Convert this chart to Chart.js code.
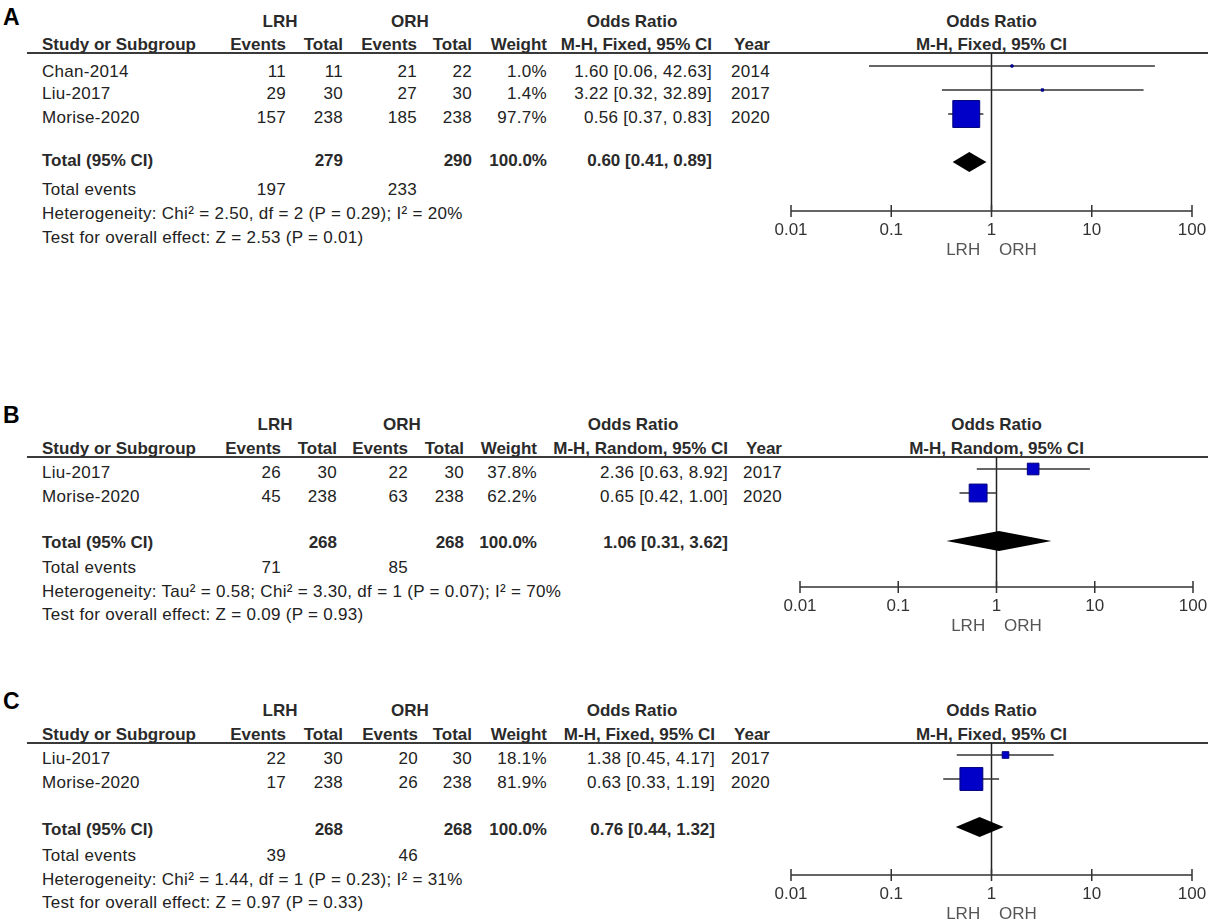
<!DOCTYPE html>
<html><head><meta charset="utf-8">
<script src="https://cdn.jsdelivr.net/npm/chart.js@4.4.1/dist/chart.umd.min.js"></script>
<style>
html,body{margin:0;padding:0;background:#fff;width:1208px;height:923px;overflow:hidden;position:relative;font-family:"Liberation Sans",Arial,sans-serif;color:#222}
.t{position:absolute;white-space:pre;font-size:17px;line-height:20px;height:20px;letter-spacing:0.3px}
.b{font-weight:bold;letter-spacing:0;color:#2a2a2a}
.rule{position:absolute;left:27px;width:1181px;height:2px;background:#3a3a3a}
.letter{position:absolute;font-weight:bold;font-size:23px;line-height:26px;color:#000}
canvas{position:absolute}
</style></head><body>
<script>
// ---------- shared axis ----------
const tickValues = [0.01, 0.1, 1, 10, 100];
const tickLabels = ['0.01', '0.1', '1', '10', '100'];
const colHeaders = ['Events', 'Total', 'Events', 'Total', 'Weight'];

// ---------- Panel A ----------
const studiesA   = ['Chan-2014', 'Liu-2017', 'Morise-2020'];
const lrhEventsA = [11, 29, 157];
const lrhTotalA  = [11, 30, 238];
const orhEventsA = [21, 27, 185];
const orhTotalA  = [22, 30, 238];
const weightA    = [1.0, 1.4, 97.7];
const orA        = [1.60, 3.22, 0.56];
const ciLowA     = [0.06, 0.32, 0.37];
const ciHighA    = [42.63, 32.89, 0.83];
const yearA      = [2014, 2017, 2020];
const totalNA    = [279, 290];
const totalEvA   = [197, 233];
const pooledA    = [0.60, 0.41, 0.89];
const methodA    = 'M-H, Fixed, 95% CI';
const hetA       = 'Heterogeneity: Chi\u00B2 = 2.50, df = 2 (P = 0.29); I\u00B2 = 20%';
const testA      = 'Test for overall effect: Z = 2.53 (P = 0.01)';

// ---------- Panel B ----------
const studiesB   = ['Liu-2017', 'Morise-2020'];
const lrhEventsB = [26, 45];
const lrhTotalB  = [30, 238];
const orhEventsB = [22, 63];
const orhTotalB  = [30, 238];
const weightB    = [37.8, 62.2];
const orB        = [2.36, 0.65];
const ciLowB     = [0.63, 0.42];
const ciHighB    = [8.92, 1.00];
const yearB      = [2017, 2020];
const totalNB    = [268, 268];
const totalEvB   = [71, 85];
const pooledB    = [1.06, 0.31, 3.62];
const methodB    = 'M-H, Random, 95% CI';
const hetB       = 'Heterogeneity: Tau\u00B2 = 0.58; Chi\u00B2 = 3.30, df = 1 (P = 0.07); I\u00B2 = 70%';
const testB      = 'Test for overall effect: Z = 0.09 (P = 0.93)';

// ---------- Panel C ----------
const studiesC   = ['Liu-2017', 'Morise-2020'];
const lrhEventsC = [22, 17];
const lrhTotalC  = [30, 238];
const orhEventsC = [20, 26];
const orhTotalC  = [30, 238];
const weightC    = [18.1, 81.9];
const orC        = [1.38, 0.63];
const ciLowC     = [0.45, 0.33];
const ciHighC    = [4.17, 1.19];
const yearC      = [2017, 2020];
const totalNC    = [268, 268];
const totalEvC   = [39, 46];
const pooledC    = [0.76, 0.44, 1.32];
const methodC    = 'M-H, Fixed, 95% CI';
const hetC       = 'Heterogeneity: Chi\u00B2 = 1.44, df = 1 (P = 0.23); I\u00B2 = 31%';
const testC      = 'Test for overall effect: Z = 0.97 (P = 0.33)';

// ---------- layout (pixels) ----------
const ROW = 24;
const layoutA = {letter:'A', letterY:17, h1:22, h2:45, line:53, rows:[72,94,118], total:161, events:190, het:214, test:238,
  cols:[286,343,417,472,547,712,770], lrhC:280, orhC:410, orC:632, row0:66, axis:211, x0:791, x1:1192};
const layoutB = {letter:'B', letterY:415, h1:425, h2:449, line:457, rows:[473,497], total:543, events:568, het:592, test:615,
  cols:[281,337,408,464,537,728,782], lrhC:275, orhC:402, orC:633, row0:469, axis:587, x0:800, x1:1193};
const layoutC = {letter:'C', letterY:701, h1:711, h2:735, line:743, rows:[759,783], total:830, events:856, het:880, test:903,
  cols:[286,343,418,472,547,715,770], lrhC:280, orhC:410, orC:632, row0:755, axis:875, x0:791, x1:1192};

function put(text, x, y, align, bold) {
  const d = document.createElement('div');
  d.className = 't' + (bold ? ' b' : '');
  d.textContent = text;
  d.style.top = (y - 10) + 'px';
  if (align === 'right') { d.style.left = (x - 400) + 'px'; d.style.width = '400px'; d.style.textAlign = 'right'; }
  else if (align === 'center') { d.style.left = (x - 200) + 'px'; d.style.width = '400px'; d.style.textAlign = 'center'; }
  else { d.style.left = x + 'px'; }
  document.body.appendChild(d);
}
const fmtCI = (o, l, h) => o.toFixed(2) + ' [' + l.toFixed(2) + ', ' + h.toFixed(2) + ']';

function drawTable(L, p) {
  const lt = document.createElement('div');
  lt.className = 'letter'; lt.textContent = L.letter;
  lt.style.left = '3px'; lt.style.top = (L.letterY - 13) + 'px';
  document.body.appendChild(lt);
  const rule = document.createElement('div');
  rule.className = 'rule'; rule.style.top = (L.line - 1) + 'px';
  document.body.appendChild(rule);

  put('LRH', L.lrhC, L.h1, 'center', true);
  put('ORH', L.orhC, L.h1, 'center', true);
  put('Odds Ratio', L.orC, L.h1, 'center', true);
  put('Study or Subgroup', 42, L.h2, 'left', true);
  colHeaders.forEach((h, i) => put(h, L.cols[i], L.h2, 'right', true));
  put(p.method, L.cols[5], L.h2, 'right', true);
  put('Year', L.cols[6], L.h2, 'right', true);
  const fc = (L.x0 + L.x1) / 2;
  put('Odds Ratio', fc, L.h1, 'center', true);
  put(p.method, fc, L.h2, 'center', true);

  p.studies.forEach((s, i) => {
    const y = L.rows[i];
    put(s, 42, y, 'left');
    put(String(p.le[i]), L.cols[0], y, 'right');
    put(String(p.lt[i]), L.cols[1], y, 'right');
    put(String(p.oe[i]), L.cols[2], y, 'right');
    put(String(p.ot[i]), L.cols[3], y, 'right');
    put(p.w[i].toFixed(1) + '%', L.cols[4], y, 'right');
    put(fmtCI(p.or[i], p.lo[i], p.hi[i]), L.cols[5], y, 'right');
    put(String(p.year[i]), L.cols[6], y, 'right');
  });
  put('Total (95% CI)', 42, L.total, 'left', true);
  put(String(p.totN[0]), L.cols[1], L.total, 'right', true);
  put(String(p.totN[1]), L.cols[3], L.total, 'right', true);
  put('100.0%', L.cols[4], L.total, 'right', true);
  put(fmtCI(p.pooled[0], p.pooled[1], p.pooled[2]), L.cols[5], L.total, 'right', true);
  put('Total events', 42, L.events, 'left');
  put(String(p.totEv[0]), L.cols[0], L.events, 'right');
  put(String(p.totEv[1]), L.cols[2], L.events, 'right');
  put(p.het, 42, L.het, 'left');
  put(p.test, 42, L.test, 'left');
}

function drawForest(L, p) {
  const cv = document.createElement('canvas');
  const chartH = L.axis - L.line;
  const W = 470, H = chartH + 52, LEFT = 760;
  cv.width = W; cv.height = H;
  cv.style.left = LEFT + 'px'; cv.style.top = L.line + 'px';
  cv.style.width = W + 'px'; cv.style.height = H + 'px';
  document.body.appendChild(cv);

  const n = p.studies.length;
  const totalRow = n + 1;
  const yMin = -(L.row0 - L.line) / ROW;
  const yMax = (L.axis - L.row0) / ROW;
  const DIAMOND_HALF = 0.42;

  const datasets = [{
    type: 'scatter',
    data: p.or.map((v, i) => ({x: v, y: i})),
    pointStyle: 'rect',
    pointRadius: p.w.map(w => (2 + 0.255 * w) / Math.SQRT2),
    backgroundColor: '#0000c8',
    borderColor: '#00007a',
    borderWidth: 1,
    clip: false,
    order: 0
  }];
  p.studies.forEach((s, i) => {
    datasets.push({
      type: 'line',
      data: [{x: p.lo[i], y: i}, {x: p.hi[i], y: i}],
      borderColor: '#333',
      borderWidth: 1.5,
      pointRadius: 0,
      showLine: true,
      order: 1
    });
  });

  const decor = {
    id: 'forestDecor',
    beforeDatasetsDraw(chart) {
      const {ctx, chartArea, scales: {x}} = chart;
      ctx.save();
      ctx.strokeStyle = '#222'; ctx.lineWidth = 1.5;
      const p1 = x.getPixelForValue(1);
      ctx.beginPath(); ctx.moveTo(p1, chartArea.top); ctx.lineTo(p1, chartArea.bottom); ctx.stroke();
      ctx.strokeStyle = '#333';
      ctx.beginPath();
      ctx.moveTo(x.getPixelForValue(tickValues[0]), chartArea.bottom);
      ctx.lineTo(x.getPixelForValue(tickValues[tickValues.length - 1]), chartArea.bottom);
      tickValues.forEach(v => {
        const px = x.getPixelForValue(v);
        ctx.moveTo(px, chartArea.bottom - 6); ctx.lineTo(px, chartArea.bottom + 6);
      });
      ctx.stroke();
      ctx.restore();
    },
    afterDatasetsDraw(chart) {
      const {ctx, scales: {x, y}} = chart;
      const xl = x.getPixelForValue(p.pooled[1]);
      const xm = x.getPixelForValue(p.pooled[0]);
      const xr = x.getPixelForValue(p.pooled[2]);
      const yc = y.getPixelForValue(totalRow);
      const yt = y.getPixelForValue(totalRow - DIAMOND_HALF);
      const yb = y.getPixelForValue(totalRow + DIAMOND_HALF);
      ctx.save();
      ctx.fillStyle = '#000';
      ctx.beginPath();
      ctx.moveTo(xl, yc); ctx.lineTo(xm, yt); ctx.lineTo(xr, yc); ctx.lineTo(xm, yb); ctx.closePath();
      ctx.fill();
      ctx.restore();
    }
  };

  new Chart(cv, {
    type: 'scatter',
    data: {datasets},
    plugins: [decor],
    options: {
      responsive: false, animation: false, devicePixelRatio: 1,
      layout: {autoPadding: false, padding: {left: L.x0 - LEFT, right: LEFT + W - L.x1, top: 0, bottom: 0}},
      plugins: {legend: {display: false}, tooltip: {enabled: false}},
      scales: {
        x: {
          type: 'logarithmic', min: tickValues[0], max: tickValues[tickValues.length - 1], position: 'bottom',
          grid: {display: false, drawTicks: false}, border: {display: false},
          afterBuildTicks: s => { s.ticks = tickValues.map(v => ({value: v})); },
          afterFit: s => { s.height = 52; },
          ticks: {padding: 9, color: '#333', autoSkip: false, maxRotation: 0,
                  font: {family: 'Liberation Sans', size: 17},
                  callback: (v, i) => tickLabels[i]},
          title: {display: true, text: 'LRH    ORH', color: '#555',
                  font: {family: 'Liberation Sans', size: 17}, padding: {top: 0, bottom: 2}}
        },
        y: {type: 'linear', reverse: true, min: yMin, max: yMax, display: false}
      }
    }
  });
}

const panelA = {studies: studiesA, le: lrhEventsA, lt: lrhTotalA, oe: orhEventsA, ot: orhTotalA, w: weightA,
  or: orA, lo: ciLowA, hi: ciHighA, year: yearA, totN: totalNA, totEv: totalEvA, pooled: pooledA, method: methodA, het: hetA, test: testA};
const panelB = {studies: studiesB, le: lrhEventsB, lt: lrhTotalB, oe: orhEventsB, ot: orhTotalB, w: weightB,
  or: orB, lo: ciLowB, hi: ciHighB, year: yearB, totN: totalNB, totEv: totalEvB, pooled: pooledB, method: methodB, het: hetB, test: testB};
const panelC = {studies: studiesC, le: lrhEventsC, lt: lrhTotalC, oe: orhEventsC, ot: orhTotalC, w: weightC,
  or: orC, lo: ciLowC, hi: ciHighC, year: yearC, totN: totalNC, totEv: totalEvC, pooled: pooledC, method: methodC, het: hetC, test: testC};

[[layoutA, panelA], [layoutB, panelB], [layoutC, panelC]].forEach(([L, p]) => { drawTable(L, p); drawForest(L, p); });
</script>
</body></html>
